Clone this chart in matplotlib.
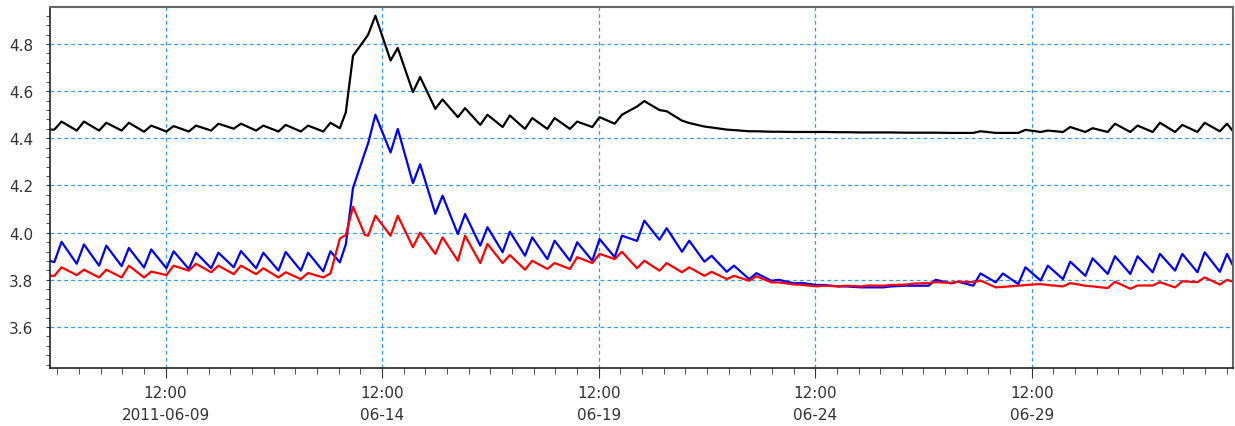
import matplotlib
matplotlib.use('Agg')
import matplotlib.pyplot as plt
import matplotlib.dates as mdates
import pandas as pd

# turning points of the tidal cycle, hours after 2011-06-06 00:00
hours = [20.0,
         22.4, 26.4, 34.8, 38.8, 47.2, 51.2, 59.7, 63.7, 72.1, 76.1, 84.5, 88.5,
         96.9, 100.9, 109.3, 113.3, 121.8, 125.8, 134.2, 138.2, 146.6, 150.6, 159.0, 163.0,
         171.4, 175.4, 180.6, 183.9, 187.9, 194.5, 196.3, 200.3,
         208.7, 212.7, 221.1, 225.1, 233.5, 237.5, 246.0, 250.0, 258.4, 262.4, 270.8, 274.8,
         283.2, 287.2, 295.6, 299.6, 308.1, 312.1, 320.5, 324.5, 332.9, 336.9, 345.3, 349.3,
         357.7, 361.7, 370.2, 374.2, 382.6, 386.6, 395.0, 399.0, 407.4, 411.4, 419.8, 423.8,
         432.3, 436.3, 444.7, 448.7, 457.1, 461.1, 469.5, 473.5, 481.9, 485.9, 494.4, 498.4,
         506.8, 510.8, 519.2, 523.2, 531.6, 535.6, 544.0, 548.0, 556.5, 560.5, 568.9, 572.9,
         581.3, 585.3, 593.7, 597.7, 606.1, 610.1, 618.6, 622.6, 631.0, 635.0, 643.4, 647.4,
         655.8, 659.8, 668.2, 672.2, 675.5]

black = [4.437,
         4.437, 4.471, 4.433, 4.471, 4.433, 4.466, 4.433, 4.466, 4.428, 4.454, 4.429, 4.452,
         4.429, 4.454, 4.433, 4.462, 4.441, 4.462, 4.433, 4.454, 4.429, 4.457, 4.429, 4.454,
         4.429, 4.466, 4.443, 4.51, 4.75, 4.82, 4.84, 4.92,
         4.73, 4.783, 4.596, 4.66, 4.525, 4.565, 4.49, 4.528, 4.457, 4.50, 4.448, 4.497,
         4.44, 4.486, 4.44, 4.486, 4.44, 4.471, 4.448, 4.49, 4.462, 4.50, 4.535, 4.558,
         4.52, 4.515, 4.475, 4.465, 4.45, 4.446, 4.437, 4.435, 4.43, 4.43, 4.428, 4.428,
         4.427, 4.427, 4.427, 4.427, 4.426, 4.426, 4.425, 4.425, 4.425, 4.425, 4.424, 4.424,
         4.424, 4.424, 4.423, 4.423, 4.423, 4.43, 4.423, 4.423, 4.423, 4.436, 4.427, 4.433,
         4.427, 4.448, 4.427, 4.443, 4.427, 4.462, 4.427, 4.454, 4.427, 4.466, 4.427, 4.457,
         4.427, 4.466, 4.43, 4.462, 4.43]

blue = [3.88,
        3.875, 3.961, 3.868, 3.950, 3.860, 3.945, 3.858, 3.935, 3.852, 3.929, 3.849, 3.921,
        3.846, 3.915, 3.849, 3.915, 3.853, 3.922, 3.849, 3.915, 3.839, 3.918, 3.839, 3.915,
        3.836, 3.921, 3.874, 3.95, 4.19, 4.34, 4.38, 4.50,
        4.34, 4.44, 4.21, 4.29, 4.08, 4.157, 3.994, 4.079, 3.945, 4.023, 3.917, 4.004,
        3.902, 3.98, 3.888, 3.966, 3.881, 3.959, 3.881, 3.973, 3.896, 3.987, 3.965, 4.051,
        3.97, 4.019, 3.919, 3.966, 3.877, 3.902, 3.834, 3.86, 3.803, 3.828, 3.796, 3.80,
        3.785, 3.787, 3.778, 3.778, 3.772, 3.772, 3.768, 3.768, 3.768, 3.772, 3.775, 3.775,
        3.775, 3.80, 3.785, 3.792, 3.775, 3.827, 3.789, 3.827, 3.782, 3.853, 3.797, 3.86,
        3.803, 3.877, 3.817, 3.891, 3.825, 3.90, 3.825, 3.90, 3.832, 3.91, 3.839, 3.91,
        3.832, 3.917, 3.834, 3.91, 3.86]

red = [3.817,
       3.817, 3.853, 3.82, 3.843, 3.81, 3.843, 3.81, 3.86, 3.81, 3.835, 3.82, 3.86,
       3.839, 3.868, 3.832, 3.86, 3.824, 3.86, 3.824, 3.849, 3.81, 3.832, 3.803, 3.829,
       3.81, 3.827, 3.975, 3.99, 4.11, 3.99, 3.987, 4.072,
       3.987, 4.072, 3.938, 4.0, 3.91, 3.98, 3.881, 3.987, 3.871, 3.952, 3.871, 3.905,
       3.843, 3.881, 3.846, 3.871, 3.846, 3.896, 3.871, 3.91, 3.888, 3.919, 3.849, 3.881,
       3.839, 3.871, 3.832, 3.853, 3.817, 3.834, 3.803, 3.817, 3.796, 3.815, 3.789, 3.789,
       3.78, 3.779, 3.772, 3.775, 3.772, 3.775, 3.772, 3.776, 3.775, 3.778, 3.78, 3.784,
       3.786, 3.79, 3.787, 3.792, 3.79, 3.797, 3.768, 3.77, 3.775, 3.778, 3.782, 3.778,
       3.772, 3.786, 3.775, 3.772, 3.765, 3.792, 3.762, 3.776, 3.776, 3.79, 3.768, 3.794,
       3.79, 3.81, 3.78, 3.80, 3.792]

tick_times = ['2011-06-09 12:00', '2011-06-14 12:00', '2011-06-19 12:00',
              '2011-06-24 12:00', '2011-06-29 12:00']
tick_labels = ['12:00\n2011-06-09', '12:00\n06-14', '12:00\n06-19',
               '12:00\n06-24', '12:00\n06-29']
y_ticks = [3.6, 3.8, 4.0, 4.2, 4.4, 4.6, 4.8]

t = pd.Timestamp('2011-06-06') + pd.to_timedelta(hours, unit='h')

fig = plt.figure(figsize=(12.35, 4.27), dpi=100)
ax = fig.add_axes([50 / 1235, 1 - 369 / 427, 1183 / 1235, 361 / 427])

ax.plot(t, black, color='black', lw=1.6)
ax.plot(t, blue, color='#0000ff', lw=1.6)
ax.plot(t, red, color='#ff0000', lw=1.6)

ax.set_xlim(t[0], t[-1])
ax.set_ylim(3.426, 4.957)

ax.set_yticks(y_ticks)
ax.set_yticklabels(['%.1f' % v for v in y_ticks])
ax.yaxis.set_minor_locator(matplotlib.ticker.MultipleLocator(0.04))
ax.set_xticks(pd.to_datetime(tick_times))
ax.set_xticklabels(tick_labels, linespacing=1.6)
ax.xaxis.set_minor_locator(mdates.HourLocator(byhour=[0, 12]))

ax.tick_params(axis='both', which='both', direction='out', colors='#333333',
               labelsize=11, labelcolor='#333333')
ax.tick_params(axis='y', which='major', length=3, pad=9)
ax.tick_params(axis='y', which='minor', length=3)
ax.tick_params(axis='x', which='major', length=7, pad=5)
ax.tick_params(axis='x', which='minor', length=4)

ax.grid(True, which='major', color='#3399ff', linestyle=(0, (3, 2.5)), lw=0.9)
for side in ['left', 'bottom']:
    ax.spines[side].set_color('#222222')
    ax.spines[side].set_linewidth(1.2)
for side in ['top', 'right']:
    ax.spines[side].set_color('#666666')
    ax.spines[side].set_linewidth(1.5)

fig.savefig('out.png', dpi=100)
